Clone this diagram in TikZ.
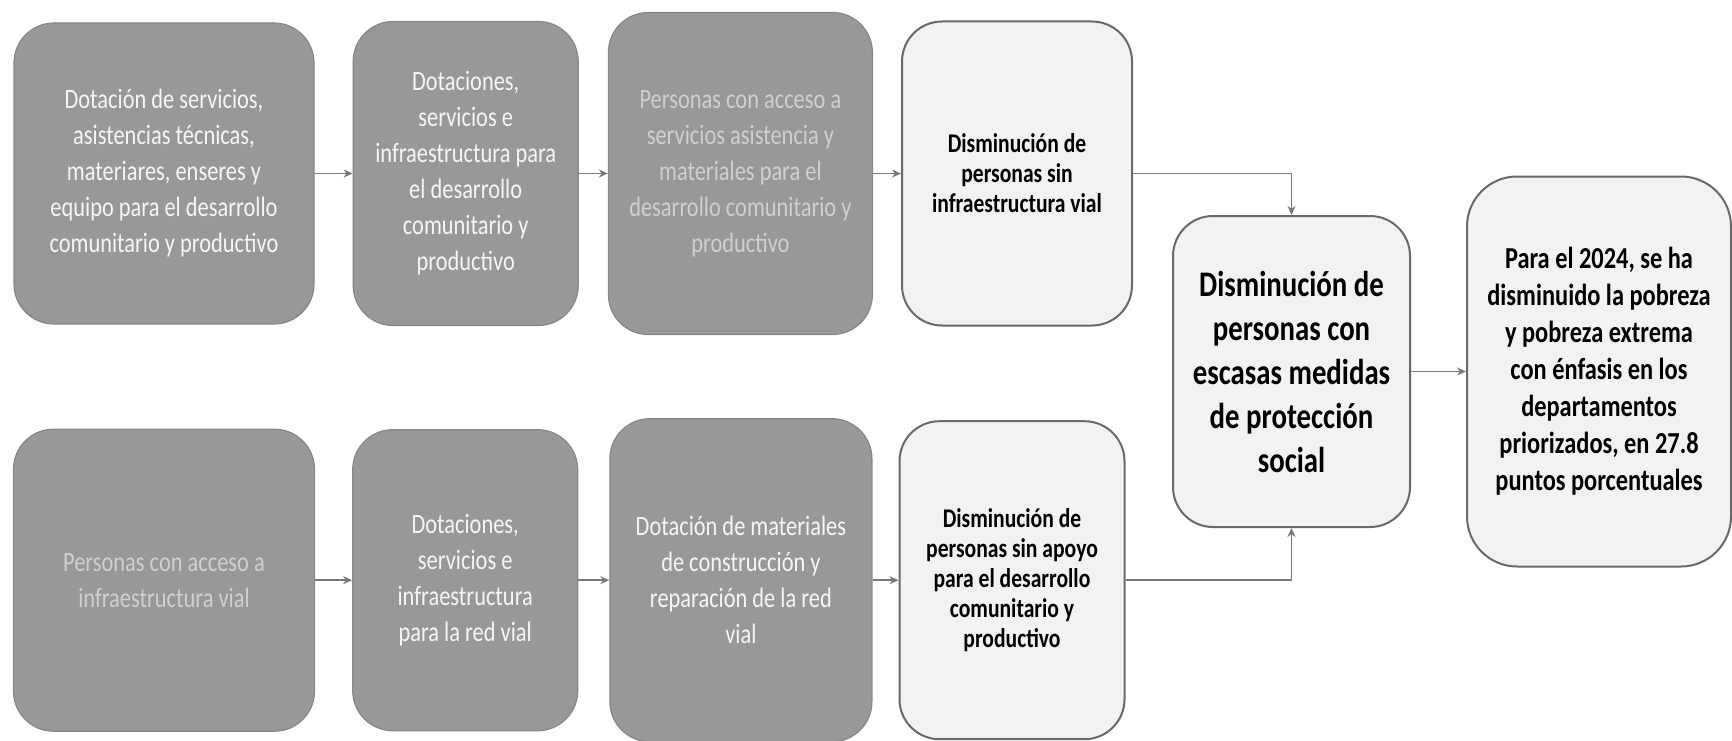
\documentclass[tikz,border=0pt]{standalone}
\usepackage{fontspec}
\setmainfont{Carlito}
\newfontfamily\boxfont[FakeStretch=0.8]{Carlito}
\usepackage{tikz}
\usetikzlibrary{positioning,arrows.meta}
\definecolor{boxgray}{RGB}{152,152,152}
\definecolor{boxedge}{RGB}{135,135,135}
\definecolor{lightfill}{RGB}{242,242,245}
\definecolor{lightedge}{RGB}{105,105,105}
\definecolor{arrowgray}{RGB}{120,120,120}
\definecolor{fadetext}{RGB}{208,208,208}
\definecolor{softwhite}{RGB}{246,246,246}
\begin{document}
\begin{tikzpicture}[x=1pt, y=-1pt,
    grayblock/.style={draw=boxedge, line width=1.2pt, fill=boxgray, rounded corners=40pt,
      inner sep=0pt, align=center, text=softwhite, font=\boxfont\fontsize{28}{36}\selectfont},
    fadeblock/.style={grayblock, text=fadetext},
    lightblock/.style={draw=lightedge, line width=2pt, fill=lightfill, rounded corners=40pt,
      inner sep=0pt, align=center, text=black, font=\boxfont\bfseries\fontsize{27}{30}\selectfont},
    link/.style={draw=arrowgray, line width=1.8pt, -{Stealth[length=9pt,width=8pt]}}]
%Cadena
\useasboundingbox (0,0) rectangle (1732,741);
\node [grayblock, minimum width=300pt, minimum height=301pt] (d1) at (164,173.5)
  {Dotación de servicios,\\ asistencias técnicas,\\ materiares, enseres y\\ equipo para el desarrollo\\ comunitario y productivo};
\node [grayblock, right=38pt of d1, minimum width=225pt, minimum height=304pt] (d2)
  {Dotaciones,\\ servicios e\\ infraestructura para\\ el desarrollo\\ comunitario y\\ productivo};
\node [fadeblock, right=29pt of d2, minimum width=264pt, minimum height=322pt] (d3)
  {Personas con acceso a\\ servicios asistencia y\\ materiales para el\\ desarrollo comunitario y\\ productivo};
\node [lightblock, right=28pt of d3, minimum width=230pt, minimum height=304pt] (r1)
  {Disminución de\\ personas sin\\ infraestructura vial};
\node [fadeblock, below=104pt of d1, minimum width=301pt, minimum height=302pt] (v1)
  {Personas con acceso a\\ infraestructura vial};
\node [grayblock, right=37pt of v1, minimum width=225pt, minimum height=301pt] (v2)
  {Dotaciones,\\ servicios e\\ infraestructura\\ para la red vial};
\node [grayblock, right=31pt of v2, minimum width=262pt, minimum height=323pt] (v3)
  {Dotación de materiales\\ de construcción y\\ reparación de la red\\ vial};
\node [lightblock, right=26pt of v3, minimum width=225pt, minimum height=318pt] (r2)
  {Disminución de\\ personas sin apoyo\\ para el desarrollo\\ comunitario y\\ productivo};
\node [lightblock, minimum width=237pt, minimum height=311pt, font=\boxfont\bfseries\fontsize{36}{44}\selectfont] (prot) at (1291.5,371.5)
  {Disminución de\\ personas con\\ escasas medidas\\ de protección\\ social};
\node [lightblock, right=55pt of prot, minimum width=264pt, minimum height=390pt, rounded corners=50pt, font=\boxfont\bfseries\fontsize{30.5}{37}\selectfont] (meta)
  {Para el 2024, se ha\\ disminuido la pobreza\\ y pobreza extrema\\ con énfasis en los\\ departamentos\\ priorizados, en 27.8\\ puntos porcentuales};
\draw [link] (d1) -- (d2);
\draw [link] (d2) -- (d3);
\draw [link] (d3) -- (r1);
\draw [link] (v1) -- (v2);
\draw [link] (v2) -- (v3);
\draw [link] (v3) -- (r2);
\draw [link] (r1.east) -| (prot.north);
\draw [link] (r2.east) -| (prot.south);
\draw [link] (prot) -- (meta);
\end{tikzpicture}
\end{document}
